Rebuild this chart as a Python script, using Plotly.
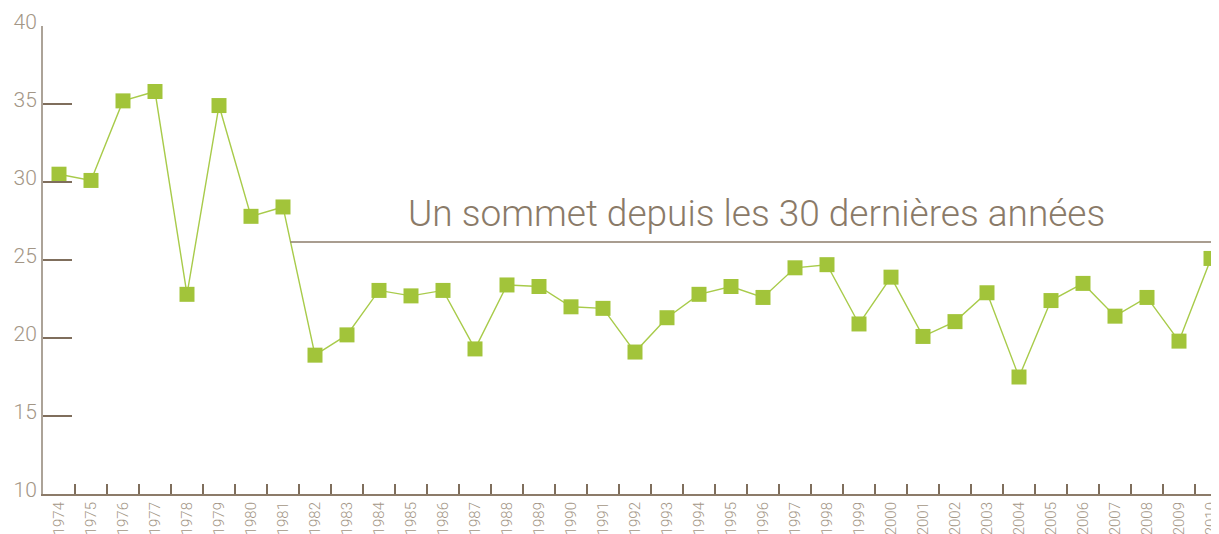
import plotly.graph_objects as go

years = [str(y) for y in range(1974, 2011)]
values = [30.5, 30.1, 35.2, 35.8, 22.8, 34.9, 27.8, 28.4, 18.9, 20.2,
          23.05, 22.7, 23.05, 19.3, 23.4, 23.3, 22.0, 21.9, 19.1, 21.3,
          22.8, 23.3, 22.6, 24.5, 24.7, 20.9, 23.9, 20.1, 21.05, 22.9,
          17.5, 22.4, 23.5, 21.4, 22.6, 19.8, 25.1]
y_ticks = [10, 15, 20, 25, 30, 35, 40]
peak_label = "Un sommet depuis les 30 dernières années"
peak_level = 26.15

GREEN = "#a2c43a"
LABEL = "#a39686"

fig = go.Figure()
fig.add_trace(go.Scatter(
    x=years, y=values, mode="lines+markers",
    line=dict(color="#a8cb4a", width=1.4),
    marker=dict(symbol="square", size=15, color=GREEN, line=dict(width=0)),
    cliponaxis=False, showlegend=False,
))

fig.add_shape(type="line", xref="x", yref="y", x0=7.23, x1=36.3,
              y0=peak_level, y1=peak_level,
              line=dict(color="#8c7c6b", width=1.5))
fig.add_annotation(x=21.8, y=28.0, xref="x", yref="y", text=peak_label,
                   showarrow=False,
                   font=dict(size=37, color="#8a7a68", family="Roboto",
                             weight=300))

fig.update_layout(
    width=1211, height=526,
    margin=dict(l=35, r=0, t=18, b=40, autoexpand=False),
    paper_bgcolor="white", plot_bgcolor="white",
    font=dict(family="Roboto", color=LABEL, weight=300),
    xaxis=dict(type="category", range=[-0.5, 36.25], tickson="boundaries",
               ticks="inside", ticklen=10, tickwidth=1.5, tickcolor="#7f6e5c",
               showline=True, linecolor="#8c7b69", linewidth=2,
               showgrid=False, zeroline=False, tickangle=-90,
               tickfont=dict(size=15, color=LABEL, weight=300)),
    yaxis=dict(range=[10, 40], tickvals=y_ticks,
               ticks="inside", ticklen=29, tickwidth=1.5, tickcolor="#7f6e5c",
               showline=True, linecolor="#aca398", linewidth=2,
               showgrid=False, zeroline=False, ticklabelshift=-4,
               tickfont=dict(size=21, color=LABEL, weight=300)),
)

fig.write_html("out.html")
